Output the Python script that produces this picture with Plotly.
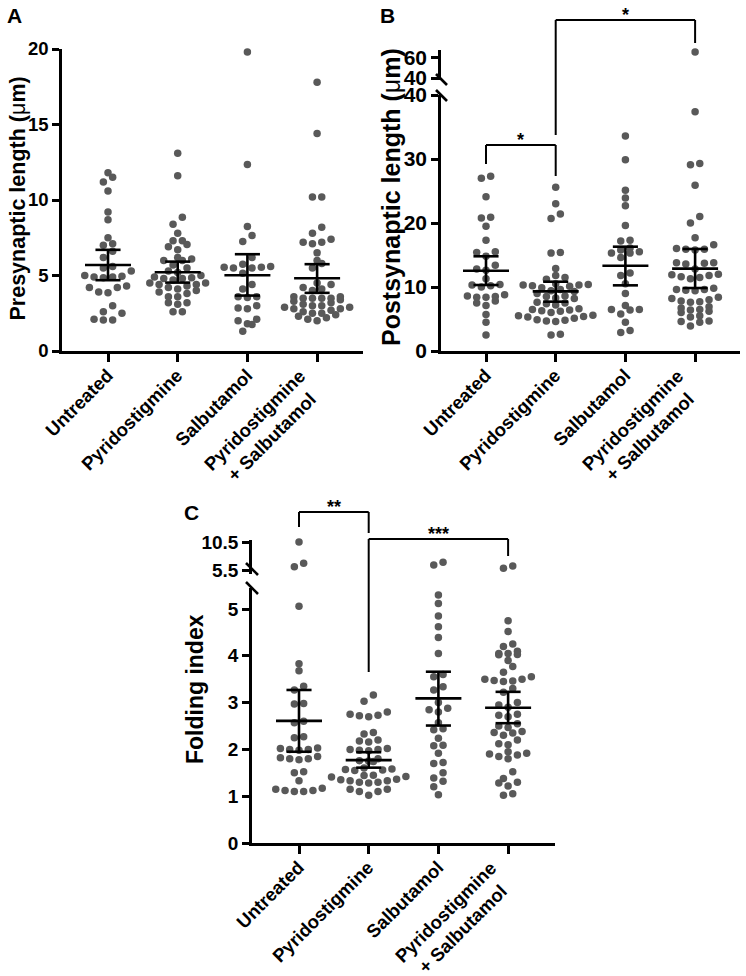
import numpy as np
import plotly.graph_objects as go

W, H = 746, 976
FONT = "Liberation Sans, Arial, Helvetica, sans-serif"
DOT = "#595959"

groups = ["Untreated", "Pyridostigmine", "Salbutamol", "Pyridostigmine + Salbutamol"]
tick_text = ["Untreated", "Pyridostigmine", "Salbutamol",
             "Pyridostigmine<br>+ Salbutamol"]

# ---------------- Panel A: presynaptic length (um) ----------------
A_untreated = [11.8, 11.5, 11.2, 10.6, 9.2, 8.7, 7.5, 7.1, 7.0, 6.6, 6.2, 5.6, 5.5, 5.3, 5.0,
               4.95, 4.9, 4.9, 4.85, 4.3, 4.2, 4.2, 3.9, 3.85, 3.0, 2.6, 2.5, 2.1, 2.05, 2.05]
A_pyr = [13.1, 11.6, 8.85, 8.4, 7.8, 7.3, 7.3, 7.05, 6.9, 6.7, 6.2, 6.1, 6.0, 6.0, 5.7, 5.5,
         5.3, 5.2, 5.0, 4.9, 4.85, 4.8, 4.8, 4.7, 4.5, 4.5, 4.4, 4.4, 4.3, 4.2, 4.1, 4.0, 3.9,
         3.8, 3.6, 3.6, 3.2, 3.2, 3.1, 2.6, 2.6]
A_salb = [19.8, 12.35, 8.25, 7.65, 7.25, 6.2, 5.75, 5.6, 5.55, 5.5, 5.5, 5.55, 5.15, 4.4,
          4.1, 3.6, 3.6, 3.55, 3.0, 2.85, 2.8, 2.1, 2.0, 1.8, 1.75, 1.3]
A_ps = [17.8, 14.4, 10.2, 10.2, 8.2, 7.8, 7.4, 7.2, 7.2, 7.1, 6.5, 6.0, 5.8, 5.5, 4.5, 4.4,
        4.2, 4.1, 4.0, 3.6, 3.6, 3.5, 3.5, 3.5, 3.5, 3.4, 3.3, 3.2, 3.1, 3.0, 3.0, 2.9, 2.9,
        2.8, 2.8, 2.7, 2.6, 2.5, 2.5, 2.4, 2.3, 2.2, 2.1, 2.0]
A_mean = [5.70, 5.22, 5.02, 4.82]
A_ci_lo = [4.69, 4.53, 3.67, 3.85]
A_ci_hi = [6.70, 5.92, 6.41, 5.75]

# ---------------- Panel B: postsynaptic length (um) ----------------
B_untreated = [27.3, 27.0, 24.1, 20.9, 20.8, 19.5, 17.3, 15.5, 15.4, 14.8, 13.4, 12.8, 12.6,
               11.3, 10.4, 10.3, 10.2, 10.0, 8.8, 8.6, 8.5, 8.4, 8.4, 7.8, 7.5, 7.1, 5.7,
               4.5, 2.5]
B_pyr = [25.6, 23.0, 21.4, 20.7, 15.4, 15.3, 12.9, 11.8, 11.5, 11.2, 10.5, 10.4, 10.3, 10.3,
         10.2, 10.1, 9.9, 9.6, 9.4, 9.3, 9.0, 8.6, 8.5, 8.3, 8.2, 7.6, 7.5, 7.4, 7.2, 6.6,
         6.5, 6.4, 6.3, 6.2, 6.0, 5.6, 5.5, 5.4, 5.3, 5.1, 4.9, 4.8, 4.7, 4.6, 2.6, 2.5]
B_salb = [33.6, 29.9, 25.1, 23.9, 22.7, 19.6, 17.3, 17.2, 16.1, 15.8, 15.5, 15.3, 15.3, 14.6,
          12.2, 11.8, 10.5, 9.0, 7.1, 6.5, 6.5, 6.4, 5.8, 4.5, 3.2, 2.9]
B_ps = [65.0, 37.4, 29.3, 29.1, 25.9, 21.0, 20.0, 17.7, 16.6, 16.0, 15.9, 15.8, 15.9, 13.8,
        13.7, 13.8, 13.6, 12.8, 12.0, 11.9, 11.8, 11.6, 11.5, 11.3, 9.8, 9.6, 9.5, 9.4, 9.6,
        8.4, 8.2, 8.0, 7.8, 7.7, 7.6, 6.9, 6.7, 6.5, 6.4, 6.2, 6.0, 5.5, 5.3, 4.7, 4.6, 4.5,
        3.9]
B_mean = [12.55, 9.32, 13.33, 12.87]
B_ci_lo = [10.31, 7.71, 10.26, 9.84]
B_ci_hi = [14.80, 10.83, 16.30, 15.94]

# ---------------- Panel C: folding index ----------------
C_untreated = [10.5, 6.7, 6.1, 5.06, 3.83, 3.68, 3.35, 3.27, 2.98, 2.97, 2.6, 2.57, 2.27,
               2.25, 2.02, 2.0, 1.98, 2.0, 2.03, 1.82, 1.8, 1.85, 1.78, 1.8, 1.5, 1.52, 1.33,
               1.15, 1.12, 1.1, 1.1, 1.12, 1.17]
C_pyr = [3.16, 3.03, 2.8, 2.75, 2.72, 2.73, 2.7, 2.36, 2.33, 2.2, 2.18, 2.16, 2.02, 2.0,
         1.98, 1.97, 2.0, 1.8, 1.75, 1.74, 1.76, 1.6, 1.57, 1.56, 1.55, 1.58, 1.45, 1.42,
         1.41, 1.44, 1.35, 1.33, 1.3, 1.28, 1.3, 1.33, 1.36, 1.15, 1.1, 1.02, 1.1, 1.15]
C_salb = [6.9, 6.4, 5.3, 5.12, 4.85, 4.62, 4.39, 4.05, 3.6, 3.55, 3.34, 3.27, 3.0, 2.88,
          2.85, 2.8, 2.57, 2.44, 2.42, 2.24, 2.09, 2.08, 1.92, 1.72, 1.7, 1.5, 1.39, 1.32,
          1.2, 1.03]
C_ps = [6.2, 5.8, 4.75, 4.52, 4.25, 4.2, 4.05, 4.05, 4.1, 4.03, 4.02, 3.9, 3.77, 3.65, 3.55,
        3.5, 3.47, 3.45, 3.46, 3.5, 3.3, 3.22, 3.0, 2.95, 2.9, 2.75, 2.73, 2.7, 2.55, 2.5,
        2.47, 2.38, 2.35, 2.36, 2.3, 2.2, 2.12, 2.1, 1.95, 1.92, 1.9, 1.88, 1.85, 1.8, 1.52,
        1.38, 1.3, 1.28, 1.22, 1.05, 1.02]
C_mean = [2.61, 1.77, 3.09, 2.89]
C_ci_lo = [1.95, 1.61, 2.51, 2.56]
C_ci_hi = [3.27, 1.94, 3.66, 3.23]


def fx(p):
    return p / W


def fy(p):
    return 1 - p / H


panels = [
    dict(letter="A", xname="x", x_left=62, x_right=363, t0=108, axis_px=351,
         data=[A_untreated, A_pyr, A_salb, A_ps], mean=A_mean, lo=A_ci_lo, hi=A_ci_hi,
         tick_size=18.5,
         segs=[dict(name="y", pxb=351, pxt=49, r=(0, 20), tv=[0, 5, 10, 15, 20], tt=None)],
         title="Presynaptic length (<span style='font-weight:normal'>\u03bc</span>m)",
         title_xy=(17.5, 199), title_size=21.5, letter_xy=(5, 15)),
    dict(letter="B", xname="x2", x_left=441, x_right=740, t0=486, axis_px=351,
         data=[B_untreated, B_pyr, B_salb, B_ps], mean=B_mean, lo=B_ci_lo, hi=B_ci_hi,
         tick_size=21,
         segs=[dict(name="y2", pxb=351, pxt=95, r=(0, 40), tv=[0, 10, 20, 30, 40], tt=None),
               dict(name="y3", pxb=80, pxt=50, r=(38.07, 67.05), tv=[40, 60], tt=None)],
         title="Postsynaptic length (<span style='font-weight:normal'>\u03bc</span>m)",
         title_xy=(391, 197), title_size=25, letter_xy=(378, 15)),
    dict(letter="C", xname="x3", x_left=252, x_right=555, t0=299, axis_px=843,
         data=[C_untreated, C_pyr, C_salb, C_ps], mean=C_mean, lo=C_ci_lo, hi=C_ci_hi,
         tick_size=19,
         segs=[dict(name="y4", pxb=843, pxt=588, r=(0, 5.449), tv=[0, 1, 2, 3, 4, 5], tt=None),
               dict(name="y5", pxb=574, pxt=540, r=(4.786, 10.857), tv=[5.5, 10.5],
                    tt=["5.5", "10.5"])],
         title="Folding index", title_xy=(195, 689), title_size=23, letter_xy=(182, 512)),
]

STEP = 69.7   # pixels between categories
ROW = 7.0     # points closer than this (px, vertically) share a row
SPACE = 9.3   # horizontal spacing of dots within a row (px)


def seg_of(v, segs):
    if len(segs) == 1 or v <= segs[0]["r"][1]:
        return 0
    return 1


def to_px(v, seg):
    lo, hi = seg["r"]
    return seg["pxb"] - (v - lo) / (hi - lo) * (seg["pxb"] - seg["pxt"])


def row_layout(ypx):
    """Prism-like column scatter: group nearby values into centred rows."""
    ypx = np.asarray(ypx, float)
    order = list(np.argsort(-ypx))  # from the bottom (largest px) upward
    xs = np.zeros(len(ypx))
    i = 0
    while i < len(order):
        start = ypx[order[i]]
        row = [order[i]]
        j = i + 1
        while j < len(order) and start - ypx[order[j]] < ROW:
            row.append(order[j])
            j += 1
        n = len(row)
        offs = [(k - (n - 1) / 2) * SPACE for k in range(n)]
        for idx, off in zip(row, sorted(offs, key=lambda o: (abs(o), o))):
            xs[idx] = off
        i = j
    return xs


fig = go.Figure()
layout = dict(width=W, height=H, autosize=False,
              margin=dict(l=0, r=0, t=0, b=0, pad=0, autoexpand=False),
              paper_bgcolor="white", plot_bgcolor="white", showlegend=False,
              font=dict(family=FONT, color="black"))
annotations = []
shapes = []
LW = 2.6

for p in panels:
    xn = p["xname"]
    xkey = "xaxis" if xn == "x" else "xaxis" + xn[1:]
    rng = [(p["x_left"] - p["t0"]) / STEP, (p["x_right"] - p["t0"]) / STEP]
    layout[xkey] = dict(domain=[fx(p["x_left"]), fx(p["x_right"])], range=rng,
                        anchor=p["segs"][0]["name"], tickvals=[0, 1, 2, 3],
                        showticklabels=False, automargin=False,
                        ticks="outside", ticklen=8, tickwidth=LW,
                        showline=True, linewidth=LW, linecolor="black", showgrid=False,
                        zeroline=False, tickcolor="black")
    for s in p["segs"]:
        ykey = "yaxis" if s["name"] == "y" else "yaxis" + s["name"][1:]
        ax = dict(domain=[fy(s["pxb"]), fy(s["pxt"])], range=list(s["r"]), anchor=xn,
                  tickvals=s["tv"], ticks="outside", ticklen=7, tickwidth=LW,
                  showline=True, linewidth=LW, linecolor="black", showgrid=False,
                  zeroline=False, tickcolor="black", automargin=False,
                  tickfont=dict(family=FONT, size=p["tick_size"], color="black", weight="bold"))
        if s["tt"] is not None:
            ax["ticktext"] = s["tt"]
        layout[ykey] = ax

    # category labels (rotated), anchored by their top-right corner under each tick
    for gi, lab in enumerate(tick_text):
        annotations.append(dict(text=lab, x=gi + 12 / STEP, y=fy(p["axis_px"] + 11),
                                xref=xn, yref="paper", xanchor="right", yanchor="top",
                                textangle=-45, align="center", showarrow=False,
                                font=dict(family=FONT, size=18.5, color="black",
                                          weight="bold")))

    # points
    for gi, vals in enumerate(p["data"]):
        vals = np.asarray(vals, float)
        sidx = np.array([seg_of(v, p["segs"]) for v in vals])
        ypx = np.array([to_px(v, p["segs"][k]) for v, k in zip(vals, sidx)])
        xoff = row_layout(ypx) / STEP
        for k, s in enumerate(p["segs"]):
            m = sidx == k
            if m.any():
                fig.add_trace(go.Scatter(x=gi + xoff[m], y=vals[m], mode="markers",
                                         marker=dict(size=7.5, color=DOT, line=dict(width=0)),
                                         xaxis=xn, yaxis=s["name"], cliponaxis=False,
                                         hoverinfo="skip"))
    # mean +/- CI
    ex, ey = [], []
    for gi in range(4):
        mu, lo, hi = p["mean"][gi], p["lo"][gi], p["hi"][gi]
        ex += [gi - 0.33, gi + 0.33, None, gi, gi, None,
               gi - 0.18, gi + 0.18, None, gi - 0.18, gi + 0.18, None]
        ey += [mu, mu, None, lo, hi, None, lo, lo, None, hi, hi, None]
    fig.add_trace(go.Scatter(x=ex, y=ey, mode="lines", line=dict(color="black", width=LW),
                             xaxis=xn, yaxis=p["segs"][0]["name"], cliponaxis=False,
                             hoverinfo="skip"))

    annotations.append(dict(text=p["letter"], x=fx(p["letter_xy"][0]), y=fy(p["letter_xy"][1]),
                            xref="paper", yref="paper", xanchor="left", yanchor="middle",
                            showarrow=False,
                            font=dict(family=FONT, size=21, color="black", weight="bold")))
    annotations.append(dict(text=p["title"], x=fx(p["title_xy"][0]), y=fy(p["title_xy"][1]),
                            xref="paper", yref="paper", xanchor="center", yanchor="middle",
                            textangle=-90, showarrow=False,
                            font=dict(family=FONT, size=p["title_size"], color="black",
                                      weight="bold")))

# axis-break marks (paper pixels)
for (x0, y0, x1, y1) in [(436, 74, 447, 85), (436, 90, 447, 101),
                         (246, 563, 258, 575), (246, 582, 258, 594)]:
    shapes.append(dict(type="line", xref="paper", yref="paper", x0=fx(x0), y0=fy(y0),
                       x1=fx(x1), y1=fy(y1), line=dict(color="black", width=LW)))

# significance brackets: (x-axis, group a, group b, bar px, leg a end px, leg b end px, label)
brackets = [("x2", 0, 1, 145, 164, 176, "*"),
            ("x2", 1, 3, 20, 135, 43, "*"),
            ("x3", 0, 1, 512, 527, 533, "**"),
            ("x3", 1, 3, 539, 672, 556, "***")]
for xr, a, b, ybar, ya, yb, lab in brackets:
    for (xx0, yy0, xx1, yy1) in [(a, ya, a, ybar), (a, ybar, b, ybar), (b, ybar, b, yb)]:
        shapes.append(dict(type="line", xref=xr, yref="paper", x0=xx0, y0=fy(yy0),
                           x1=xx1, y1=fy(yy1), line=dict(color="black", width=2)))
    annotations.append(dict(text=lab, x=(a + b) / 2, y=fy(ybar - 5), xref=xr, yref="paper",
                            xanchor="center", yanchor="middle", showarrow=False,
                            font=dict(family=FONT, size=18, color="black", weight="bold")))

layout["annotations"] = annotations
layout["shapes"] = shapes
fig.update_layout(**layout)
fig.write_html("out.html", config={"displayModeBar": False},
               post_script="document.body.style.margin='0px';")
